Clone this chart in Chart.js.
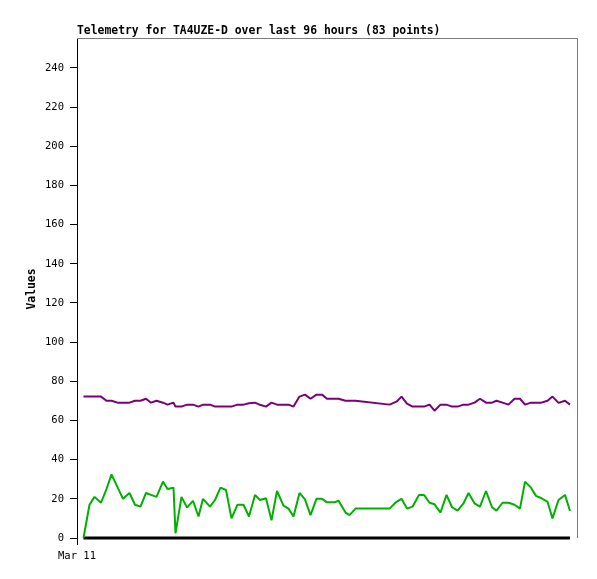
<!DOCTYPE html>
<html>
<head>
<meta charset="utf-8">
<script src="https://cdn.jsdelivr.net/npm/chart.js@4"></script>
<style>
  html, body { margin: 0; padding: 0; background: #fff; }
</style>
</head>
<body>
<canvas id="telemetry-chart" width="597" height="579"></canvas>
<script>
// Telemetry (hours since the start of the window)
const hours = [1.3, 2.5, 3.5, 4.8, 5.9, 6.9, 8.1, 9.2, 10.5, 11.6,
    12.7, 13.8, 14.8, 15.9, 17.2, 18.1, 19.3, 19.7, 20.9, 22.0,
    23.2, 24.3, 25.2, 26.6, 27.6, 28.7, 29.8, 30.9, 32.1, 33.3,
    34.4, 35.6, 36.6, 37.8, 38.9, 40.0, 41.3, 42.3, 43.3, 44.5,
    45.6, 46.7, 47.9, 49.0, 50.0, 51.5, 52.3, 53.7, 54.5, 55.7,
    62.5, 63.9, 64.9, 66.0, 67.1, 68.4, 69.4, 70.5, 71.5, 72.7,
    73.9, 75.0, 76.1, 77.3, 78.3, 79.5, 80.6, 81.8, 83.0, 83.9,
    85.1, 86.3, 87.5, 88.6, 89.6, 90.8, 91.8, 92.9, 94.1, 95.1,
    96.3, 97.6, 98.6];

const chan1 = [72.2, 72.2, 72.2, 72.2, 70.1, 70.1, 69.1, 69.1, 69.1, 70.1,
    70.1, 71.1, 69.1, 70.1, 69.1, 68.1, 69.1, 67.1, 67.1, 68.1,
    68.1, 67.1, 68.1, 68.1, 67.1, 67.1, 67.1, 67.1, 68.1, 68.1,
    68.8, 69.1, 68.0, 67.1, 69.1, 68.1, 68.1, 68.1, 67.1, 72.2,
    73.2, 71.1, 73.2, 73.2, 71.1, 71.1, 71.1, 70.1, 70.1, 70.1,
    68.1, 69.6, 72.2, 68.6, 67.1, 67.1, 67.1, 68.1, 65.0, 68.1,
    68.1, 67.1, 67.1, 68.1, 68.1, 69.1, 71.1, 69.1, 69.1, 70.1,
    69.1, 68.1, 71.1, 71.1, 68.1, 69.1, 69.1, 69.1, 70.1, 72.2,
    69.0, 70.1, 68.1];

const chan2 = [0, 17, 21, 18, 25, 32.5, 26, 20, 23, 17,
    16, 23, 22, 21, 28.8, 25, 25.7, 2.4, 21, 15.5,
    19, 11, 20, 16, 19.4, 25.7, 24.5, 10, 17, 17,
    11, 22, 19.4, 20.3, 9, 24, 16.5, 15, 11, 23,
    19.7, 11.7, 20, 20, 18.2, 18.2, 19, 13, 11.7, 15,
    15, 18.5, 20, 15, 16, 22, 22, 18, 17.2, 13,
    22, 15.7, 14, 17.7, 23, 17.7, 16, 24, 15.7, 14,
    18, 18, 17, 15, 28.8, 25.7, 21.5, 20.3, 18.5, 10,
    19.4, 22, 13.8];

const chan3 = hours.map(() => 0); // flat at zero for the whole window

const yTicks = [0, 20, 40, 60, 80, 100, 120, 140, 160, 180, 200, 220, 240];
const xTicks = [0];
const xTickLabels = ['Mar 11'];

const chartTitle = 'Telemetry for TA4UZE-D over last 96 hours (83 points)';
const yTitle = 'Values';

const monoFont = '"DejaVu Sans Mono", "Liberation Mono", monospace';

function points(values) {
    return values.map((v, i) => ({ x: hours[i], y: v }));
}

// Title, rotated axis label and the grey frame on top/right
const framePlugin = {
    id: 'frame',
    afterDraw(chart) {
        const { ctx, chartArea } = chart;
        ctx.save();
        ctx.strokeStyle = '#7a7a7a';
        ctx.lineWidth = 1;
        ctx.beginPath();
        ctx.moveTo(chartArea.left, chartArea.top + 0.5);
        ctx.lineTo(chartArea.right + 0.5, chartArea.top + 0.5);
        ctx.lineTo(chartArea.right + 0.5, chartArea.bottom);
        ctx.stroke();

        ctx.fillStyle = '#000';
        ctx.font = 'bold 11.4px ' + monoFont;
        ctx.textBaseline = 'middle';
        ctx.textAlign = 'left';
        ctx.fillText(chartTitle, chartArea.left, 31.5);

        ctx.translate(32, 289);
        ctx.rotate(-Math.PI / 2);
        ctx.textAlign = 'center';
        ctx.fillText(yTitle, 0, 0);
        ctx.restore();
    }
};

const ctx = document.getElementById('telemetry-chart').getContext('2d');

const config = {
    type: 'line',
    data: {
        datasets: [
            { label: 'ch1', data: points(chan1), borderColor: '#7a007a', borderWidth: 2 },
            { label: 'ch2', data: points(chan2), borderColor: '#00b000', borderWidth: 2 },
            { label: 'ch3', data: points(chan3), borderColor: '#000000', borderWidth: 3 }
        ]
    },
    options: {
        responsive: false,
        animation: false,
        layout: { padding: { top: 38, right: 20, left: 0, bottom: 0 } },
        elements: {
            point: { radius: 0 },
            line: { tension: 0, borderJoinStyle: 'bevel' }
        },
        datasets: { line: { clip: 4 } },
        plugins: {
            legend: { display: false },
            title: { display: false },
            tooltip: { enabled: false }
        },
        scales: {
            x: {
                type: 'linear',
                min: 0,
                max: 100,
                afterBuildTicks: s => { s.ticks = xTicks.map(v => ({ value: v })); },
                afterFit: s => { s.height = 41; },
                border: { display: false },
                grid: {
                    drawOnChartArea: false,
                    drawTicks: true,
                    tickLength: 7,
                    color: '#000'
                },
                ticks: {
                    color: '#000',
                    padding: 5,
                    maxRotation: 0,
                    font: { family: monoFont, size: 10.5 },
                    callback: (v, i) => xTickLabels[i]
                }
            },
            y: {
                min: 0,
                max: 255.3,
                afterBuildTicks: s => { s.ticks = yTicks.map(v => ({ value: v })); },
                afterFit: s => { s.width = 77; },
                border: { display: true, color: '#000', width: 1 },
                grid: {
                    drawOnChartArea: false,
                    drawTicks: true,
                    tickLength: 7,
                    color: '#000'
                },
                ticks: {
                    color: '#000',
                    padding: 6,
                    font: { family: monoFont, size: 10.5 }
                }
            }
        }
    },
    plugins: [framePlugin]
};

const telemetryChart = new Chart(ctx, config);
</script>
</body>
</html>
